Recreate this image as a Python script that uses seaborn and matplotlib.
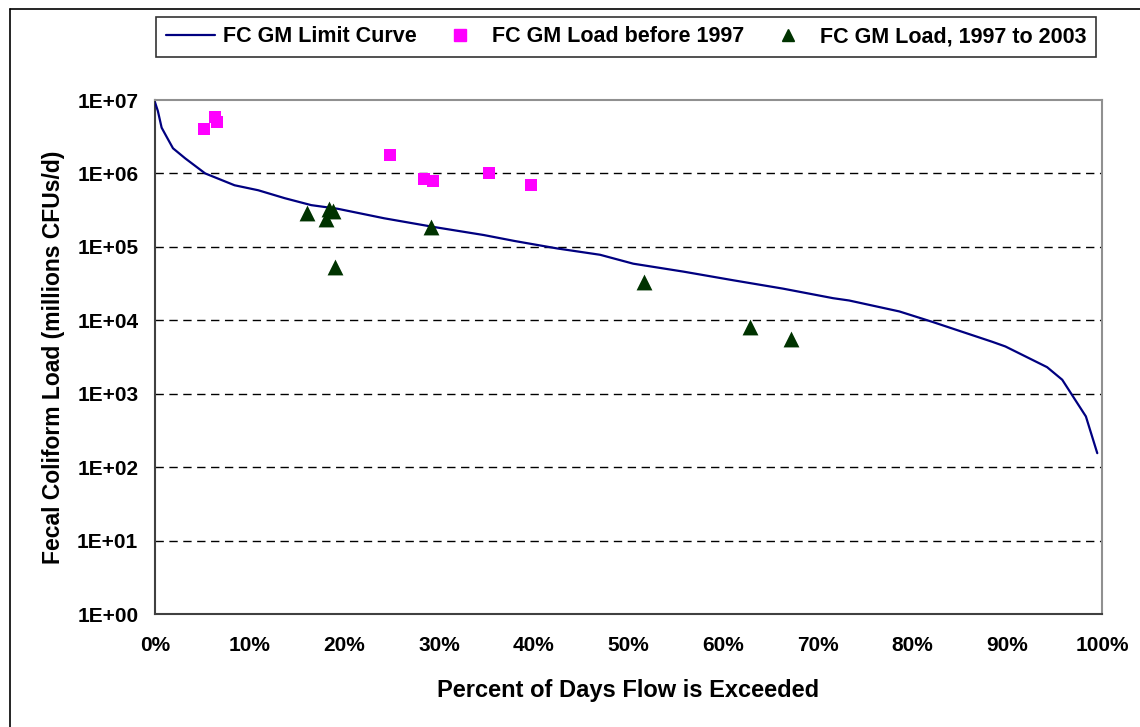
import numpy as np
import pandas as pd
import matplotlib
matplotlib.use("Agg")
import matplotlib.pyplot as plt
from matplotlib.lines import Line2D
import seaborn as sns

# limit curve (percent of days flow exceeded vs load)
curve_pct = [0.0, 0.3, 0.7, 1.2, 1.9, 3.2, 5.3, 8.4, 10.9, 13.7, 16.5, 19.3, 24.2, 29.5,
             34.7, 38.0, 42.5, 47.0, 50.5, 55.8, 61.1, 66.3, 71.6, 73.3, 78.6, 82.1,
             88.4, 89.8, 94.2, 95.8, 98.3, 99.5]
curve_load = [9.3e6, 7.1e6, 4.2e6, 3.2e6, 2.2e6, 1.6e6, 1.0e6, 6.9e5, 5.9e5, 4.6e5, 3.7e5,
              3.3e5, 2.45e5, 1.86e5, 1.45e5, 1.2e5, 9.5e4, 7.8e4, 5.9e4, 4.6e4, 3.5e4,
              2.7e4, 2.0e4, 1.86e4, 1.32e4, 9.5e3, 5.1e3, 4.4e3, 2.3e3, 1.55e3, 490, 155]

# observed loads before 1997
pre_pct = [5.2, 6.3, 6.5, 24.8, 28.4, 29.4, 35.3, 39.7]
pre_load = [4.0e6, 5.8e6, 5.0e6, 1.77e6, 8.3e5, 7.8e5, 1.0e6, 6.9e5]

# observed loads 1997 to 2003
post_pct = [16.0, 18.4, 18.8, 18.1, 19.0, 29.1, 51.6, 62.8, 67.2]
post_load = [2.9e5, 3.3e5, 3.1e5, 2.4e5, 5.4e4, 1.86e5, 3.3e4, 8.0e3, 5.5e3]

x_ticks = [0, 10, 20, 30, 40, 50, 60, 70, 80, 90, 100]
x_labels = ["0%", "10%", "20%", "30%", "40%", "50%", "60%", "70%", "80%", "90%", "100%"]
y_ticks = [1e0, 1e1, 1e2, 1e3, 1e4, 1e5, 1e6, 1e7]
y_labels = ["1E+00", "1E+01", "1E+02", "1E+03", "1E+04", "1E+05", "1E+06", "1E+07"]

curve_df = pd.DataFrame({"pct": curve_pct, "load": curve_load})
pre_df = pd.DataFrame({"pct": pre_pct, "load": pre_load})
post_df = pd.DataFrame({"pct": post_pct, "load": post_load})

sns.set_style("white")
plt.rcParams["font.family"] = ["Liberation Sans", "DejaVu Sans"]
plt.rcParams["font.weight"] = "bold"
plt.rcParams["text.color"] = "black"
plt.rcParams["axes.labelcolor"] = "black"
plt.rcParams["xtick.color"] = "black"
plt.rcParams["ytick.color"] = "black"

fig = plt.figure(figsize=(11.4, 7.27), dpi=100)
ax = fig.add_axes([155 / 1140, 1 - 614 / 727, (1102 - 155) / 1140, (614 - 100) / 727])

line_color = "#000080"
pink = "#FF00FF"
green = "#003300"

sns.lineplot(data=curve_df, x="pct", y="load", ax=ax, color=line_color, linewidth=1.6,
             zorder=3, legend=False)
sns.scatterplot(data=pre_df, x="pct", y="load", ax=ax, marker="s", color=pink, s=85,
                edgecolor=pink, linewidth=0, zorder=4, legend=False)
sns.scatterplot(data=post_df, x="pct", y="load", ax=ax, marker="^", color=green, s=130,
                edgecolor=green, linewidth=0, zorder=4, legend=False)

ax.set_yscale("log")
ax.set_xlim(0, 100)
ax.set_ylim(1, 1e7)
ax.set_xticks(x_ticks)
ax.set_xticklabels(x_labels)
ax.set_yticks(y_ticks)
ax.set_yticklabels(y_labels)
ax.minorticks_off()
ax.tick_params(axis="both", which="major", direction="out", length=5, width=1,
               color="#404040", labelcolor="black", labelsize=15)
ax.tick_params(axis="y", pad=7)
ax.tick_params(axis="x", pad=11)
for lab in ax.get_xticklabels() + ax.get_yticklabels():
    lab.set_fontweight("bold")

for yv in y_ticks[1:-1]:
    ax.axhline(yv, color="black", linestyle=(0, (6, 4)), linewidth=1, zorder=1)

for side in ["top", "right"]:
    ax.spines[side].set_color("#909090")
    ax.spines[side].set_linewidth(1.5)
for side in ["left", "bottom"]:
    ax.spines[side].set_color("#404040")
    ax.spines[side].set_linewidth(1.5)

ax.set_xlabel("Percent of Days Flow is Exceeded", fontsize=17, fontweight="bold",
              labelpad=17, color="black")
ax.set_ylabel("Fecal Coliform Load (millions CFUs/d)", fontsize=16.5, fontweight="bold",
              labelpad=9, color="black")

handles = [
    Line2D([0], [0], color=line_color, linewidth=1.6, label="FC GM Limit Curve"),
    Line2D([0], [0], color=pink, marker="s", linestyle="none", markersize=8,
           label="FC GM Load before 1997"),
    Line2D([0], [0], color=green, marker="^", linestyle="none", markersize=9,
           label="FC GM Load, 1997 to 2003"),
]
leg = fig.legend(handles=handles, loc="lower left", ncol=3, mode="expand",
                 bbox_to_anchor=(156 / 1140, 1 - 57 / 727, (1096 - 156) / 1140, 43 / 727),
                 frameon=True, fancybox=False, edgecolor="black", borderaxespad=0,
                 borderpad=0.45, prop={"size": 15.5, "weight": "bold"}, handlelength=2.3,
                 handletextpad=0.35, labelcolor="black")
leg.get_frame().set_linewidth(1.2)

# outer chart frame
fig.add_artist(Line2D([10 / 1140, 10 / 1140], [0, 1 - 9 / 727], transform=fig.transFigure,
                      color="black", linewidth=1.2))
fig.add_artist(Line2D([10 / 1140, 1], [1 - 9 / 727, 1 - 9 / 727], transform=fig.transFigure,
                      color="black", linewidth=1.2))

fig.savefig("out.png", dpi=100)
